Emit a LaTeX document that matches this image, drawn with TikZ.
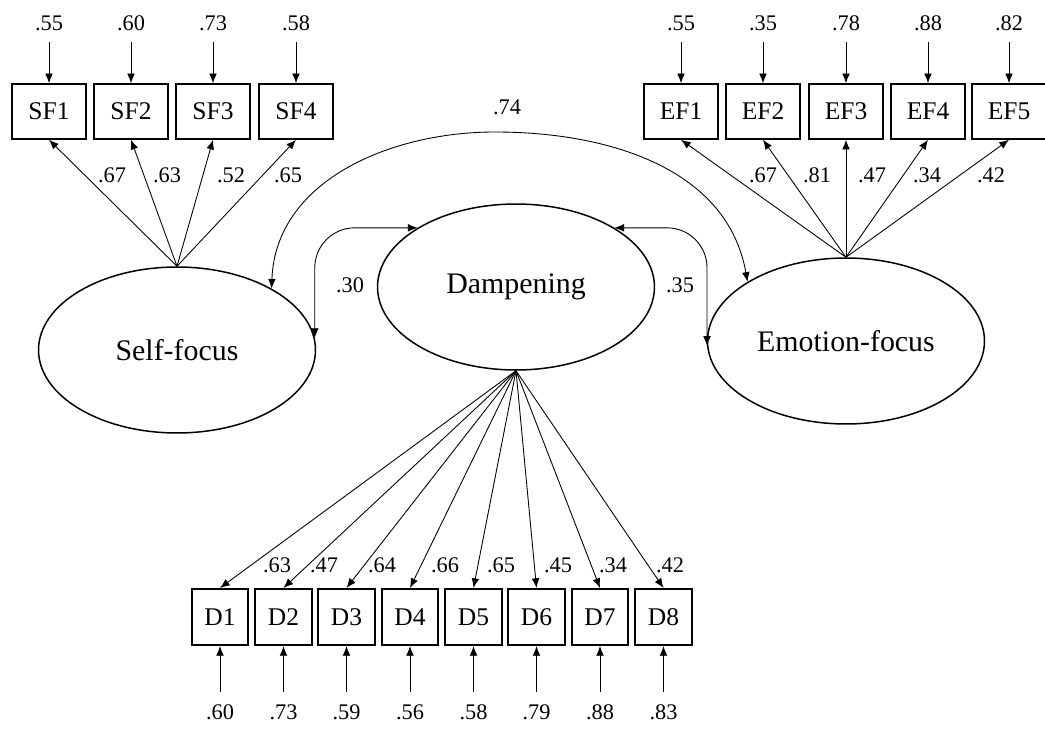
\documentclass[tikz,border=0pt]{standalone}
\usepackage{fontspec}
\setmainfont{Liberation Serif}
\usetikzlibrary{arrows.meta}
\usetikzlibrary{shapes.geometric}

\begin{document}
\begin{tikzpicture}[x=0.02cm,y=-0.02cm,
    ind/.style={draw,line width=0.9pt,minimum width=1.48cm,minimum height=1.1cm,inner sep=0pt,font=\fontsize{14.5}{16}\selectfont},
    dind/.style={ind,minimum width=1.13cm,minimum height=1.13cm},
    lat/.style={draw,ellipse,line width=0.85pt,minimum width=5.54cm,minimum height=3.32cm,inner sep=0pt,font=\fontsize{17}{19}\selectfont},
    num/.style={font=\fontsize{12.7}{14}\selectfont,inner sep=1pt},
    arr/.style={line width=0.5pt,-{Latex[length=5.5pt,width=4.4pt]}},
    cov/.style={line width=0.5pt,{Latex[length=5.5pt,width=4.4pt]}-{Latex[length=5.5pt,width=4.4pt]}}]
  \useasboundingbox (0,0) rectangle (1045,729);
  \node[lat] (sf) at (177,350) {Self-focus};
  \node[lat] (dp) at (516,287) {Dampening};
  \node[lat] (ef) at (846,341) {Emotion-focus};
  % self-focus items
  \foreach \i/\x/\e/\l/\lx in {1/49/.55/.67/112, 2/131/.60/.63/167, 3/213/.73/.52/231, 4/296/.58/.65/288} {
    \node[ind] (sf\i) at (\x,111.5) {SF\i};
    \node[num] (esf\i) at (\x,23) {\e};
    \draw[arr,shorten <=5.3pt] (esf\i) -- (sf\i);
    \draw[arr] (sf.north) -- (sf\i.south);
    \node[num] at (\lx,175) {\l};
  }
  % emotion-focus items
  \foreach \i/\x/\e/\l/\lx in {1/681/.55/.67/763, 2/763/.35/.81/817, 3/846/.78/.47/872, 4/928/.88/.34/927, 5/1009/.82/.42/991} {
    \node[ind] (ef\i) at (\x,111.5) {EF\i};
    \node[num] (eef\i) at (\x,23) {\e};
    \draw[arr,shorten <=5.3pt] (eef\i) -- (ef\i);
    \draw[arr] (ef.north) -- (ef\i.south);
    \node[num] at (\lx,175) {\l};
  }
  % dampening items
  \foreach \i/\x/\e/\l/\lx in {1/220/.60/.63/277, 2/283.5/.73/.47/324, 3/346.5/.59/.64/382, 4/410/.56/.66/445, 5/473.5/.58/.65/501, 6/536.5/.79/.45/558, 7/600/.88/.34/613, 8/663.5/.83/.42/670} {
    \node[dind] (d\i) at (\x,617) {D\i};
    \node[num] (ed\i) at (\x,712) {\e};
    \draw[arr,shorten <=5.8pt] (ed\i) -- (d\i);
    \draw[arr] (dp.south) -- (d\i.north);
    \node[num] at (\lx,565) {\l};
  }
  % covariances
  \draw[cov,rounded corners=0.8cm] (sf.5) |- (dp.149);
  \draw[cov,rounded corners=0.8cm] (dp.31) -| (ef.182);
  \node[num] at (350,285) {.30};
  \node[num] at (680,285) {.35};
  \coordinate (top) at (495,132);
  \draw[cov] (sf.33) to[out=88,in=180] (top) to[out=0,in=100] (ef.149);
  \node[num] at (507,107) {.74};
\end{tikzpicture}
\end{document}
